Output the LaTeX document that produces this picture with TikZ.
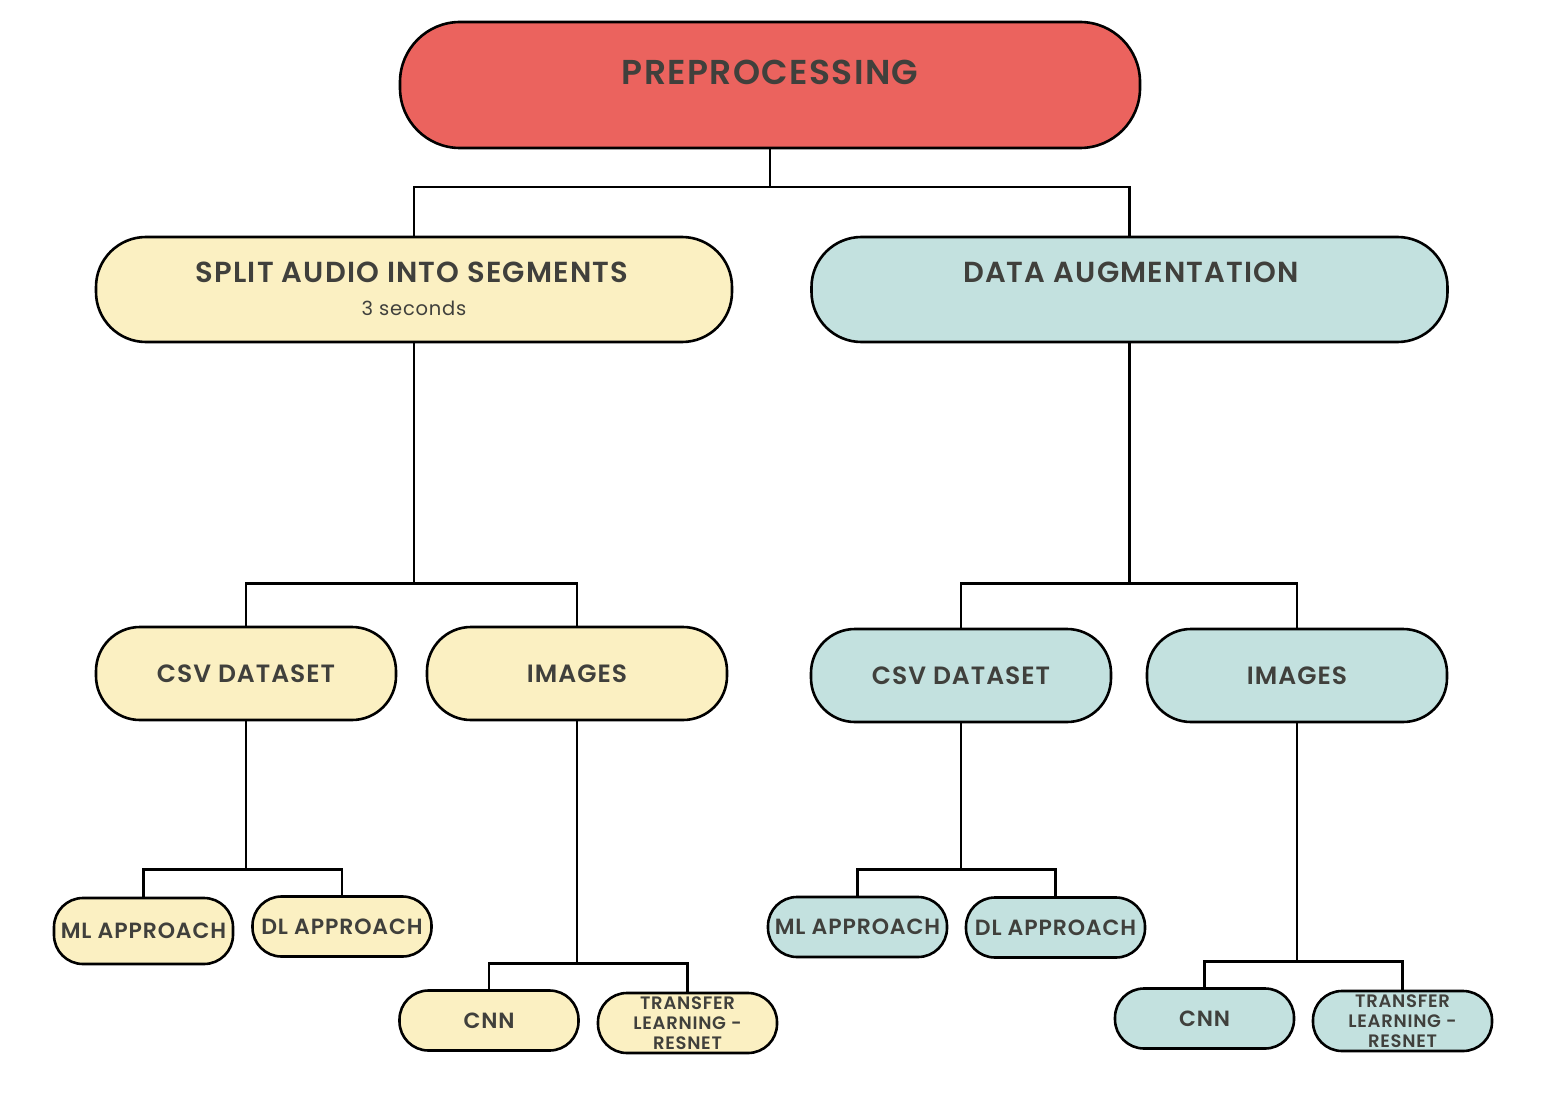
\documentclass[tikz,border=0pt]{standalone}
\usepackage{fontspec}
\setmainfont{Poppins}[BoldFont={Poppins SemiBold}, LetterSpace=4]
\definecolor{redbox}{HTML}{EB635E}
\definecolor{yellowbox}{HTML}{FBF0C2}
\definecolor{tealbox}{HTML}{C3E1DF}
\definecolor{ink}{HTML}{40403C}

\begin{document}
\begin{tikzpicture}[x=1pt, y=-1pt,
  pill/.style={draw, line width=2.6pt, inner sep=0pt, text=ink, align=center},
  bigpill/.style={pill, minimum width=636pt, minimum height=105pt, rounded corners=50pt},
  midpill/.style={pill, minimum width=300pt, minimum height=93pt, rounded corners=44pt,
    font=\bfseries\fontsize{25}{28}\selectfont},
  smallpill/.style={pill, minimum width=179pt, minimum height=60pt, rounded corners=29pt,
    font=\bfseries\fontsize{22}{24}\selectfont},
  tinytext/.style={font=\bfseries\fontsize{18}{20}\selectfont},
  headtext/.style={text=ink, font=\bfseries\fontsize{29}{32}\selectfont},
  link/.style={line width=2.4pt}]
  \useasboundingbox[fill=white] (0,0) rectangle (1552,1118);

  % top box
  \node[pill, fill=redbox, minimum width=740pt, minimum height=126pt, rounded corners=60pt] (pre) at (770,85) {};
  \node[text=ink, font=\bfseries\fontsize{34.5}{40}\selectfont] (preT) at (770,72) {PREPROCESSING};

  % second level
  \node[bigpill, fill=yellowbox] (split) at (414,289.5) {};
  \node[headtext] (splitT) at (412,272) {SPLIT AUDIO INTO SEGMENTS};
  \node[text=ink, font=\fontsize{19.5}{22}\selectfont] (splitS) at (414,308) {3 seconds};
  \node[bigpill, fill=tealbox] (aug) at (1129.5,289.5) {};
  \node[headtext] (augT) at (1131,272) {DATA AUGMENTATION};

  % third level
  \node[midpill, fill=yellowbox] (csvL) at (246,673.5) {CSV DATASET};
  \node[midpill, fill=yellowbox] (imgL) at (577,673.5) {IMAGES};
  \node[midpill, fill=tealbox] (csvR) at (961,675.5) {CSV DATASET};
  \node[midpill, fill=tealbox] (imgR) at (1297,675.5) {IMAGES};

  % leaves
  \node[smallpill, fill=yellowbox, minimum height=66pt] (mlL) at (143.5,931) {ML APPROACH};
  \node[smallpill, fill=yellowbox] (dlL) at (342,926.5) {DL APPROACH};
  \node[smallpill, fill=yellowbox] (cnnL) at (489,1020.5) {CNN};
  \node[smallpill, fill=yellowbox, tinytext] (tlL) at (687.5,1023) {TRANSFER\\LEARNING -\\RESNET};
  \node[smallpill, fill=tealbox] (mlR) at (857.5,927) {ML APPROACH};
  \node[smallpill, fill=tealbox] (dlR) at (1055.5,927.5) {DL APPROACH};
  \node[smallpill, fill=tealbox] (cnnR) at (1204.5,1018.5) {CNN};
  \node[smallpill, fill=tealbox, tinytext] (tlR) at (1402.5,1021) {TRANSFER\\LEARNING -\\RESNET};

  % connectors
  \draw[link] (pre.south) -- ++(0,38) coordinate (j1);
  \draw[link] (split.north) |- (j1) -| (aug.north);
  \draw[link] (split.south) -- ++(0,240) coordinate (j2);
  \draw[link] (csvL.north) |- (j2) -| (imgL.north);
  \draw[link] (aug.south) -- ++(0,240) coordinate (j3);
  \draw[link] (csvR.north) |- (j3) -| (imgR.north);
  \draw[link] (csvL.south) -- ++(0,148) coordinate (j4);
  \draw[link] (mlL.north) |- (j4) -| (dlL.north);
  \draw[link] (imgL.south) -- ++(0,242) coordinate (j5);
  \draw[link] (cnnL.north) |- (j5) -| (tlL.north);
  \draw[link] (csvR.south) -- ++(0,146) coordinate (j6);
  \draw[link] (mlR.north) |- (j6) -| (dlR.north);
  \draw[link] (imgR.south) -- ++(0,238) coordinate (j7);
  \draw[link] (cnnR.north) |- (j7) -| (tlR.north);
\end{tikzpicture}
\end{document}
